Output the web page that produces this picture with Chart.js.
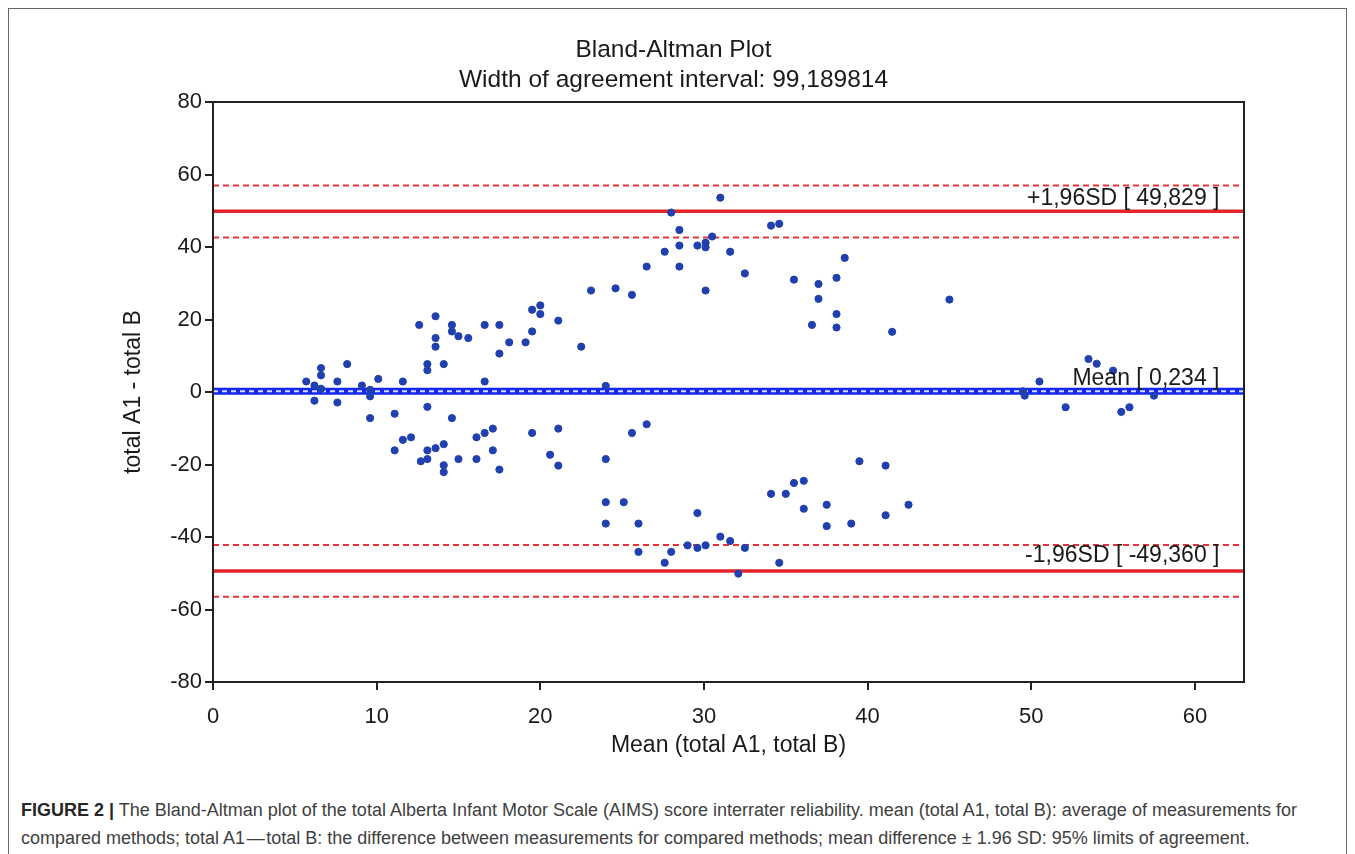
<!DOCTYPE html>
<html lang="en">
<head>
    <meta charset="UTF-8">
    <title>Bland-Altman Plot</title>
    <style>
        body {
            margin: 0;
            background-color: #fff;
            font-family: "Liberation Sans", Arial, sans-serif;
        }
        .figure {
            position: absolute;
            left: 8px;
            top: 8px;
            width: 1339px;
            height: 860px;
            border: 1px solid #666;
            box-sizing: border-box;
        }
        .chart-box {
            position: absolute;
            left: 111px;
            top: 11px;
            width: 1216px;
            height: 760px;
        }
        .caption {
            position: absolute;
            left: 12px;
            top: 787px;
            width: 1315px;
            font-family: "Liberation Sans", Arial, sans-serif;
            font-size: 18px;
            line-height: 28px;
            color: #404040;
        }
        .caption b {
            color: #262626;
        }
    </style>
</head>
<body>
    <div class="figure">
        <div class="chart-box">
            <canvas id="baChart"></canvas>
        </div>
        <div class="caption">
            <b>FIGURE 2 |</b> The Bland-Altman plot of the total Alberta Infant Motor Scale (AIMS) score interrater reliability. mean (total A1, total B): average of measurements for compared methods; total A1&#8202;&mdash;&#8202;total B: the difference between measurements for compared methods; mean difference &plusmn; 1.96 SD: 95% limits of agreement.
        </div>
    </div>

    <script src="https://cdn.jsdelivr.net/npm/chart.js"></script>
    <script>
        // mean of the two ratings (x) and their difference (y)
        const meanAB = [
            5.7, 6.2, 6.6, 6.6, 6.6, 7.6, 8.2, 9.1, 9.6, 10.1, 11.6, 12.6, 13.1, 13.1, 13.6, 13.6, 13.6, 14.1,
            14.6, 14.6, 15.0, 15.6, 16.6, 16.6, 17.5, 17.5, 18.1, 19.1, 19.5, 19.5, 20.0, 20.0, 21.1, 22.5,
            23.1, 24.0, 24.6, 25.6, 26.5, 27.6, 28.0, 28.5, 28.5, 28.5, 29.6, 30.1, 30.1, 30.1, 30.5, 31.0,
            31.6, 32.5, 34.1, 34.6, 35.5, 36.6, 37.0, 37.0, 38.1, 38.1, 38.1, 38.6, 41.5, 45.0, 49.5, 49.6,
            50.5, 53.5, 54.0, 55.0, 52.1, 55.5, 56.0, 57.5,
            6.2, 7.6, 9.6, 9.6, 11.1, 13.1, 14.6, 19.5, 11.1, 11.6, 12.1, 12.7, 13.1, 13.1, 13.6, 14.1, 14.1,
            14.1, 15.0, 16.1, 16.1, 16.6, 17.1, 17.1, 17.5, 20.6, 21.1, 21.1, 24.0, 24.0, 24.0, 25.1, 25.6,
            26.5, 26.0, 26.0, 27.6, 28.0, 29.0, 29.6, 29.6, 30.1, 31.0, 31.6, 32.1, 32.5, 34.1, 34.6, 35.0,
            35.5, 36.1, 36.1, 37.5, 37.5, 39.0, 39.5, 41.1, 41.1, 42.5
        ];
        const diffAB = [
            2.9, 1.8, 6.6, 4.6, 0.9, 2.9, 7.7, 1.8, 0.6, 3.6, 2.9, 18.5, 7.7, 6.0, 20.9, 14.9, 12.5, 7.7,
            18.5, 16.7, 15.4, 14.9, 18.5, 2.9, 18.5, 10.6, 13.7, 13.7, 16.7, 22.7, 23.9, 21.5, 19.7, 12.5,
            28.0, 1.7, 28.6, 26.8, 34.6, 38.7, 49.5, 44.7, 40.4, 34.6, 40.4, 41.2, 39.9, 28.0, 42.9, 53.6,
            38.7, 32.7, 45.9, 46.4, 31.0, 18.5, 29.8, 25.7, 31.5, 21.5, 17.8, 37.0, 16.6, 25.5, 0.2, -1.0,
            2.9, 9.1, 7.8, 5.9, -4.2, -5.5, -4.2, -1.0,
            -2.4, -2.9, -1.2, -7.2, -6.0, -4.1, -7.2, -11.3, -16.1, -13.2, -12.5, -19.1, -16.1, -18.5, -15.5, -14.4, -20.2,
            -22.1, -18.5, -12.5, -18.5, -11.3, -10.1, -16.1, -21.4, -17.3, -10.1, -20.3, -18.5, -30.4, -36.3, -30.4, -11.3,
            -8.9, -36.3, -44.1, -47.1, -44.1, -42.3, -43.0, -33.4, -42.3, -39.9, -41.1, -50.1, -43.0, -28.1, -47.1, -28.1,
            -25.1, -24.5, -32.2, -31.1, -37.0, -36.3, -19.1, -20.3, -34.0, -31.1
        ];

        const xRange = [0, 63];
        const yTicks = [-80, -60, -40, -20, 0, 20, 40, 60, 80];
        const xTicks = [0, 10, 20, 30, 40, 50, 60];

        const meanDiff = 0.234;
        const upperLoA = 49.829;
        const lowerLoA = -49.360;
        const upperLoACI = [42.6, 57.0];
        const lowerLoACI = [-42.2, -56.5];

        const lineLabels = ['+1,96SD [ 49,829 ]', 'Mean [ 0,234 ]', '-1,96SD [ -49,360 ]'];
        const titleLines = ['Bland-Altman Plot', 'Width of agreement interval: 99,189814'];

        const sans = '"Liberation Sans", Arial, sans-serif';

        const points = meanAB.map((x, i) => ({ x: x, y: diffAB[i] }));
        const hLine = (v) => [{ x: xRange[0], y: v }, { x: xRange[1], y: v }];

        const lineStyle = (data, color, width, dash) => ({
            type: 'line',
            data: data,
            borderColor: color,
            borderWidth: width,
            borderDash: dash || [],
            pointRadius: 0,
            fill: false
        });

        // title, frame round the plot, text on the limit lines
        const extras = {
            id: 'extras',
            afterDatasetsDraw(chart) {
                const ctx = chart.ctx;
                const y = chart.scales.y;
                const x = chart.scales.x;
                const a = chart.chartArea;
                const right = x.getPixelForValue(61.5);
                const titleX = (a.left + a.right) / 2 - 55;
                ctx.save();
                ctx.fillStyle = '#1a1a1a';
                ctx.textBaseline = 'alphabetic';
                ctx.textAlign = 'center';
                ctx.font = '24.5px ' + sans;
                ctx.fillText(titleLines[0], titleX, a.top - 45);
                ctx.fillText(titleLines[1], titleX, a.top - 15);

                ctx.font = '23px ' + sans;
                ctx.textAlign = 'right';
                ctx.textBaseline = 'bottom';
                ctx.fillText(lineLabels[0], right, y.getPixelForValue(upperLoA) - 1);
                ctx.fillText(lineLabels[1], right, y.getPixelForValue(meanDiff) - 1);
                ctx.fillText(lineLabels[2], right, y.getPixelForValue(lowerLoA) - 4);

                ctx.strokeStyle = '#222';
                ctx.lineWidth = 2;
                ctx.strokeRect(a.left, a.top, a.right - a.left, a.bottom - a.top);
                ctx.restore();
            }
        };

        new Chart(document.getElementById('baChart'), {
            type: 'scatter',
            data: {
                datasets: [
                    {
                        type: 'scatter',
                        data: points,
                        backgroundColor: '#2140b0',
                        borderColor: '#2140b0',
                        pointRadius: 3.6,
                        pointHoverRadius: 3.6
                    },
                    lineStyle(hLine(meanDiff), '#d8dcf5', 2, [5, 4]),
                    lineStyle(hLine(meanDiff), '#1428f0', 7),
                    lineStyle(hLine(upperLoA), '#e3242b', 3.5),
                    lineStyle(hLine(lowerLoA), '#e3242b', 3.5),
                    lineStyle(hLine(upperLoACI[0]), '#e8323a', 2, [6, 4]),
                    lineStyle(hLine(upperLoACI[1]), '#e8323a', 2, [6, 4]),
                    lineStyle(hLine(lowerLoACI[0]), '#e8323a', 2, [6, 4]),
                    lineStyle(hLine(lowerLoACI[1]), '#e8323a', 2, [6, 4])
                ]
            },
            options: {
                responsive: true,
                maintainAspectRatio: false,
                animation: false,
                layout: { padding: { left: 0, right: 92, top: 82, bottom: 0 } },
                plugins: {
                    legend: { display: false },
                    tooltip: { enabled: false },
                    title: { display: false }
                },
                scales: {
                    x: {
                        type: 'linear',
                        min: xRange[0],
                        max: xRange[1],
                        afterBuildTicks: (s) => { s.ticks = xTicks.map(v => ({ value: v })); },
                        afterFit: (s) => { s.height = 98; },
                        border: { display: true, color: '#222', width: 2 },
                        grid: { drawOnChartArea: false, color: '#222', lineWidth: 2, tickLength: 8 },
                        ticks: {
                            color: '#1a1a1a',
                            padding: 14,
                            font: { family: sans, size: 22 }
                        },
                        title: {
                            display: true,
                            text: 'Mean (total A1, total B)',
                            color: '#1a1a1a',
                            font: { family: sans, size: 23 },
                            padding: { top: 0, bottom: 21 }
                        }
                    },
                    y: {
                        type: 'linear',
                        min: -80,
                        max: 80,
                        afterBuildTicks: (s) => { s.ticks = yTicks.map(v => ({ value: v })); },
                        afterFit: (s) => { s.width = 93; },
                        border: { display: true, color: '#222', width: 2 },
                        grid: { drawOnChartArea: false, color: '#222', lineWidth: 2, tickLength: 8 },
                        ticks: {
                            color: '#1a1a1a',
                            padding: 3,
                            font: { family: sans, size: 22 }
                        },
                        title: {
                            display: true,
                            text: 'total A1 - total B',
                            color: '#1a1a1a',
                            font: { family: sans, size: 23 },
                            padding: { top: 0, bottom: 0 }
                        }
                    }
                }
            },
            plugins: [extras]
        });
    </script>
</body>
</html>
